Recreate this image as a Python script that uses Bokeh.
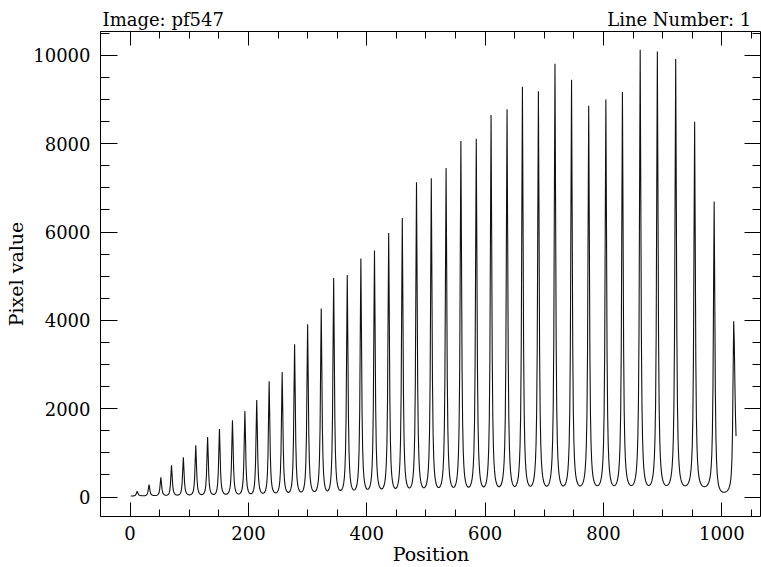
import numpy as np
from bokeh.plotting import figure
from bokeh.models import (LinearAxis, Range1d, SingleIntervalTicker, FixedTicker,
                          ColumnDataSource)
from bokeh.embed import file_html
from bokeh.resources import INLINE

# ---- values ----
peak_x = [12, 32, 52, 70, 90, 111, 131, 151, 173, 194, 214, 235, 257, 278,
          300, 323, 344, 367, 390, 413, 437, 460, 484, 509, 534, 559, 585,
          610, 637, 663, 690, 718, 746, 775, 804, 832, 862, 891, 922, 954,
          987, 1020]
peak_y = [130, 280, 450, 720, 900, 1170, 1360, 1540, 1740, 1950, 2200, 2620,
          2830, 3460, 3910, 4270, 4960, 5030, 5400, 5580, 5980, 6320, 7130,
          7220, 7450, 8060, 8110, 8650, 8780, 9290, 9190, 9810, 9450, 8860,
          9000, 9170, 10130, 10090, 9920, 8500, 6690, 3980]
trough_y = [30, 35, 40, 45, 50, 55, 60, 65, 70, 75,
            85, 95, 105, 115, 125, 140, 150, 160, 175, 185,
            195, 205, 210, 215, 220, 225, 230, 235, 240, 245,
            248, 250, 252, 255, 258, 260, 262, 262, 255, 235,
            110]
start_y = 25
end_x = 1024
end_y = 1380

x_major = [0, 200, 400, 600, 800, 1000]
y_major = [0, 2000, 4000, 6000, 8000, 10000]
header_left = "Image: pf547"
header_right = "Line Number: 1"
header_pos = [56, 928]

# ---- build the line through the read peaks / troughs ----
pix = np.arange(1, end_x + 1)
yv = np.zeros(len(pix), dtype=float)
w = 3.0


def prof(t, d):
    F = (2 * d / (np.pi * w)) ** 2
    L = 1.0 / (1.0 + F * np.sin(np.pi * t) ** 2)
    L5 = 1.0 / (1.0 + F)
    return (L - L5) / (1.0 - L5)


for k in range(len(peak_x) - 1):
    xi, xj = peak_x[k], peak_x[k + 1]
    Ai, Aj = peak_y[k], peak_y[k + 1]
    m = trough_y[k]
    d = xj - xi
    sel = (pix >= xi) & (pix <= xj)
    t = (pix[sel] - xi) / d
    s = t * t * (3 - 2 * t)
    A = Ai + (Aj - Ai) * s
    yv[sel] = m + (A - m) * prof(t, d)

sel = pix < peak_x[0]
d0 = 20
t = (pix[sel] - (peak_x[0] - d0)) / d0
yv[sel] = start_y + (peak_y[0] - start_y) * prof(t, d0)

sel = pix > peak_x[-1]
yv[sel] = trough_y[-1] + (peak_y[-1] - trough_y[-1]) / (1 + ((pix[sel] - peak_x[-1]) / 2.7) ** 2)
yv[-1] = end_y

src = ColumnDataSource(dict(x=pix, y=yv))

FONT = "DejaVu Serif"
FS = "18px"
FSL = "19px"

p = figure(width=761, height=567,
           x_range=Range1d(-50, 1067), y_range=Range1d(-440, 10541),
           output_backend="svg", toolbar_location=None,
           x_axis_location=None, y_axis_location=None,
           min_border_left=100, min_border_right=0,
           min_border_top=31, min_border_bottom=49)
p.grid.visible = False
p.outline_line_color = "black"
p.outline_line_width = 1
p.background_fill_color = "white"
p.border_fill_color = "white"

p.line("x", "y", source=src, line_color="#111111", line_width=1.1)


def style(ax, tin, tmin):
    ax.axis_line_color = None
    ax.major_tick_in = tin
    ax.major_tick_out = 0
    ax.minor_tick_in = tmin
    ax.minor_tick_out = 0
    ax.major_tick_line_color = "black"
    ax.minor_tick_line_color = "black"
    ax.major_label_text_font = FONT
    ax.major_label_text_font_size = FS
    ax.major_label_text_color = "black"
    ax.axis_label_text_font = FONT
    ax.axis_label_text_font_size = FSL
    ax.axis_label_text_font_style = "normal"
    ax.axis_label_text_color = "black"


# bottom axis with labels
xb = LinearAxis(ticker=SingleIntervalTicker(interval=200, num_minor_ticks=4),
                axis_label="Position")
style(xb, 14, 7)
xb.major_label_standoff = 9
xb.axis_label_standoff = 0
p.add_layout(xb, "below")

# top ticks (no labels)
xt = LinearAxis(ticker=SingleIntervalTicker(interval=200, num_minor_ticks=4),
                major_label_overrides={v: "" for v in x_major})
style(xt, 14, 7)
xt.major_label_text_font_size = "1px"
xt.major_label_standoff = 0
p.add_layout(xt, "above")

# header texts placed through a label-only top axis
xh = LinearAxis(ticker=FixedTicker(ticks=header_pos, minor_ticks=[]),
                major_label_overrides={header_pos[0]: header_left,
                                       header_pos[1]: header_right})
style(xh, 0, 0)
xh.major_tick_line_color = None
xh.minor_tick_line_color = None
xh.major_label_standoff = 2
p.add_layout(xh, "above")

# left axis with labels
yl = LinearAxis(ticker=SingleIntervalTicker(interval=2000, num_minor_ticks=4),
                axis_label="Pixel value")
style(yl, 17, 9)
yl.major_label_standoff = 10
yl.axis_label_standoff = 3
p.add_layout(yl, "left")

# right ticks (no labels)
yr = LinearAxis(ticker=SingleIntervalTicker(interval=2000, num_minor_ticks=4),
                major_label_overrides={v: "" for v in y_major})
style(yr, 17, 9)
yr.major_label_text_font_size = "1px"
yr.major_label_standoff = 0
p.add_layout(yr, "right")

open("out.html", "w").write(file_html(p, INLINE))
